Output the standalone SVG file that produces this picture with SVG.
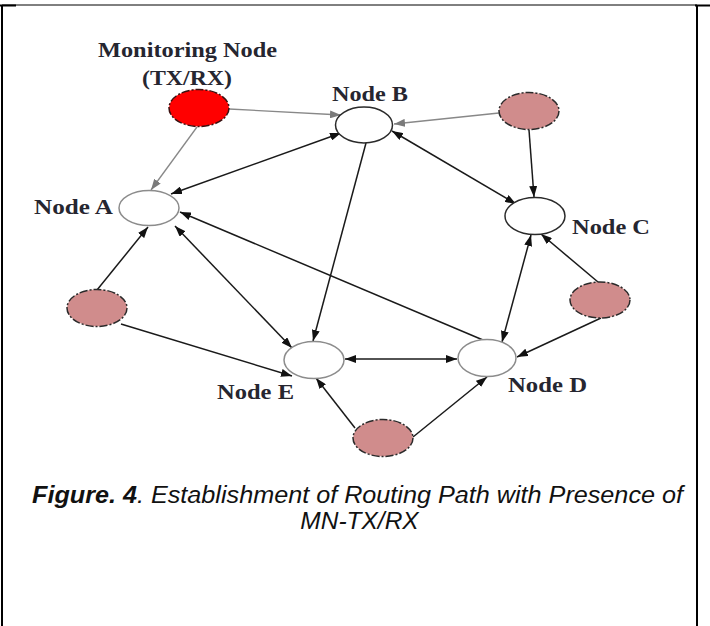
<svg xmlns="http://www.w3.org/2000/svg" width="710" height="626" viewBox="0 0 710 626">
  <defs>
    <marker id="ah" viewBox="0 0 11 8" refX="11" refY="4" markerWidth="11" markerHeight="8" markerUnits="userSpaceOnUse" orient="auto-start-reverse">
      <path d="M0,0 L11,4 L0,8 Z" fill="#111"/>
    </marker>
    <marker id="ahg" viewBox="0 0 11 8" refX="11" refY="4" markerWidth="11" markerHeight="8" markerUnits="userSpaceOnUse" orient="auto-start-reverse">
      <path d="M0,0 L11,4 L0,8 Z" fill="#7a7a7a"/>
    </marker>
    <style>
      .frame { stroke: #000; fill: none; }
      .edge { stroke: #1a1a1a; stroke-width: 1.5; fill: none; }
      .edge.one { marker-end: url(#ah); }
      .edge.two { marker-start: url(#ah); marker-end: url(#ah); }
      .edge.grey { stroke: #888; stroke-width: 1.3; marker-end: url(#ahg); }
      .node { fill: #fff; stroke-width: 1.5; }
      .dark { stroke: #2a2a2a; }
      .light { stroke: #8c8c8c; }
      .src { fill: #d08c8c; stroke: #2a2a2a; stroke-width: 1.5; stroke-dasharray: 8 2 2 2; }
      .mon { fill: #ff0000; stroke: #3a1010; stroke-width: 1.5; stroke-dasharray: 8 2 2 2; }
      .lbl { font-family: "Liberation Serif", "Times New Roman", serif; font-weight: bold; font-size: 20.5px; fill: #262630; }
      .cap { font-family: "Liberation Sans", Arial, sans-serif; font-style: italic; font-size: 24.5px; fill: #111; }
    </style>
  </defs>

  <rect width="710" height="626" fill="#fff"/>

  <!-- page frame -->
  <g id="frame">
    <line class="frame" x1="2" y1="5" x2="697" y2="5" stroke-width="1"/>
    <line class="frame" x1="0" y1="5.5" x2="16" y2="5.5" stroke-width="2"/>
    <line class="frame" x1="695" y1="5.5" x2="710" y2="5.5" stroke-width="2"/>
    <line class="frame" x1="2" y1="5" x2="2" y2="626" stroke-width="2"/>
    <line class="frame" x1="697" y1="5" x2="697" y2="626" stroke-width="2"/>
  </g>

  <!-- connectors -->
  <g id="connectors">
    <line class="edge grey" x1="229" y1="109" x2="341" y2="115"/>
    <line class="edge grey" x1="197" y1="127" x2="151" y2="190"/>
    <line class="edge two" x1="171" y1="194" x2="341" y2="133"/>
    <line class="edge grey" x1="499" y1="113" x2="394" y2="124"/>
    <line class="edge one" x1="529" y1="130" x2="534" y2="197"/>
    <line class="edge two" x1="392" y1="131" x2="516" y2="204"/>
    <line class="edge one" x1="366" y1="143" x2="313" y2="341"/>
    <line class="edge two" x1="175" y1="226" x2="292" y2="348"/>
    <line class="edge one" x1="97" y1="290" x2="148" y2="227"/>
    <line class="edge one" x1="121" y1="324" x2="292" y2="376"/>
    <line class="edge two" x1="345" y1="359" x2="457" y2="359"/>
    <line class="edge one" x1="483" y1="340" x2="180" y2="212"/>
    <line class="edge two" x1="531" y1="235" x2="502" y2="342"/>
    <line class="edge one" x1="598" y1="282" x2="541" y2="234"/>
    <line class="edge one" x1="601" y1="318" x2="517" y2="357"/>
    <line class="edge one" x1="355" y1="428" x2="316" y2="378"/>
    <line class="edge one" x1="413" y1="437" x2="487" y2="377"/>
  </g>

  <!-- monitoring node -->
  <g id="monitor">
    <ellipse class="mon" cx="199" cy="108" rx="30" ry="18.5"/>
    <text class="lbl" x="98" y="57" textLength="179" lengthAdjust="spacingAndGlyphs">Monitoring Node</text>
    <text class="lbl" x="142" y="85" textLength="90" lengthAdjust="spacingAndGlyphs">(TX/RX)</text>
  </g>

  <g id="nodeA">
    <ellipse class="node light" cx="149" cy="208" rx="30" ry="17.5"/>
    <text class="lbl" x="34" y="214" textLength="79" lengthAdjust="spacingAndGlyphs">Node A</text>
  </g>
  <g id="nodeB">
    <ellipse class="node dark" cx="364" cy="125" rx="28.5" ry="18"/>
    <text class="lbl" x="332" y="101" textLength="76" lengthAdjust="spacingAndGlyphs">Node B</text>
  </g>
  <g id="nodeC">
    <ellipse class="node dark" cx="535" cy="216" rx="30" ry="18.5"/>
    <text class="lbl" x="572" y="234" textLength="78" lengthAdjust="spacingAndGlyphs">Node C</text>
  </g>
  <g id="nodeD">
    <ellipse class="node light" cx="487" cy="358" rx="29" ry="18.5"/>
    <text class="lbl" x="508" y="392" textLength="79" lengthAdjust="spacingAndGlyphs">Node D</text>
  </g>
  <g id="nodeE">
    <ellipse class="node light" cx="314" cy="360" rx="30" ry="18.5"/>
    <text class="lbl" x="217" y="399" textLength="77" lengthAdjust="spacingAndGlyphs">Node E</text>
  </g>

  <!-- traffic sources -->
  <g id="srcTop"><ellipse class="src" cx="529" cy="111" rx="30" ry="18.5"/></g>
  <g id="srcLeft"><ellipse class="src" cx="97" cy="308" rx="30" ry="18.5"/></g>
  <g id="srcRight"><ellipse class="src" cx="600" cy="300" rx="30" ry="18"/></g>
  <g id="srcBottom"><ellipse class="src" cx="383" cy="438" rx="30" ry="18.5"/></g>

  <!-- caption -->
  <g id="caption">
    <text class="cap" x="32" y="503" textLength="651" lengthAdjust="spacingAndGlyphs"><tspan font-weight="bold">Figure. 4</tspan>. Establishment of Routing Path with Presence of</text>
    <text class="cap" x="359.5" y="529" text-anchor="middle">MN-TX/RX</text>
  </g>
</svg>
